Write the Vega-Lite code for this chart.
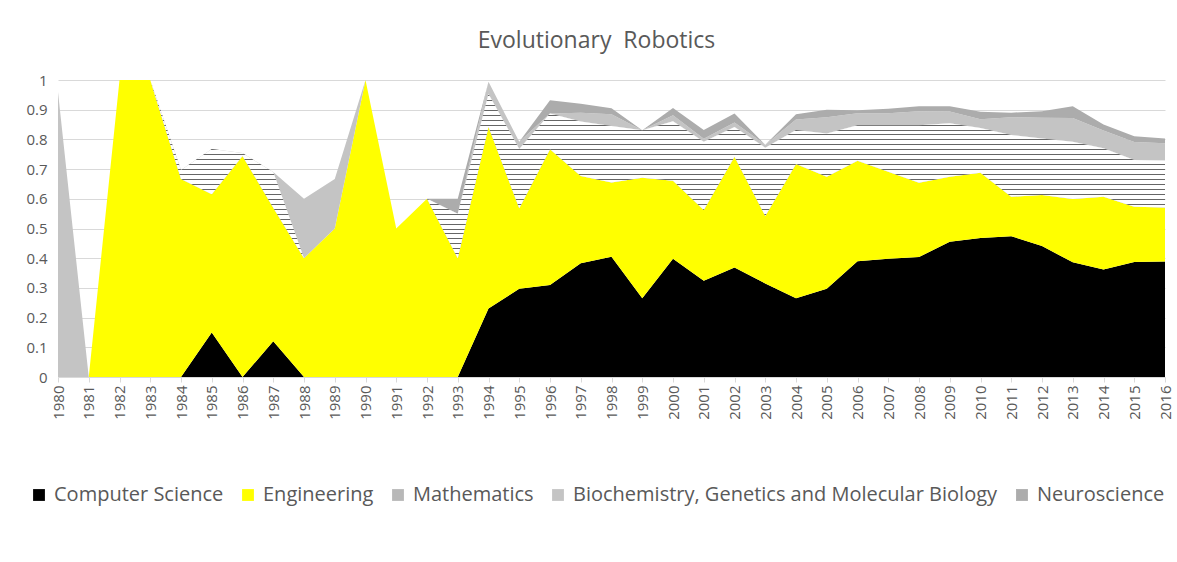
{
  "$schema": "https://vega.github.io/schema/vega-lite/v6.json",
  "width": 1107,
  "height": 297,
  "autosize": {"type": "none"},
  "padding": {"left": 58, "top": 80, "right": 12, "bottom": 185},
  "background": "white",
  "title": {"text": "Evolutionary\u00a0 Robotics", "fontSize": 23, "font": "Open Sans", "fontWeight": "normal", "color": "#595959", "offset": 20, "dx": -15},
  "data": {"values": [
    {"year": 1980, "Computer Science": 0, "Engineering": 0, "Mathematics": 0, "Biochemistry, Genetics and Molecular Biology": 0.96, "Neuroscience": 0},
    {"year": 1981, "Computer Science": 0, "Engineering": 0, "Mathematics": 0, "Biochemistry, Genetics and Molecular Biology": 0, "Neuroscience": 0},
    {"year": 1982, "Computer Science": 0, "Engineering": 1, "Mathematics": 0, "Biochemistry, Genetics and Molecular Biology": 0, "Neuroscience": 0},
    {"year": 1983, "Computer Science": 0, "Engineering": 1, "Mathematics": 0, "Biochemistry, Genetics and Molecular Biology": 0, "Neuroscience": 0},
    {"year": 1984, "Computer Science": 0, "Engineering": 0.667, "Mathematics": 0.03, "Biochemistry, Genetics and Molecular Biology": 0, "Neuroscience": 0},
    {"year": 1985, "Computer Science": 0.15, "Engineering": 0.465, "Mathematics": 0.153, "Biochemistry, Genetics and Molecular Biology": 0, "Neuroscience": 0},
    {"year": 1986, "Computer Science": 0, "Engineering": 0.744, "Mathematics": 0.01, "Biochemistry, Genetics and Molecular Biology": 0, "Neuroscience": 0},
    {"year": 1987, "Computer Science": 0.12, "Engineering": 0.45, "Mathematics": 0.12, "Biochemistry, Genetics and Molecular Biology": 0, "Neuroscience": 0},
    {"year": 1988, "Computer Science": 0, "Engineering": 0.4, "Mathematics": 0, "Biochemistry, Genetics and Molecular Biology": 0.2, "Neuroscience": 0},
    {"year": 1989, "Computer Science": 0, "Engineering": 0.5, "Mathematics": 0, "Biochemistry, Genetics and Molecular Biology": 0.167, "Neuroscience": 0},
    {"year": 1990, "Computer Science": 0, "Engineering": 1, "Mathematics": 0, "Biochemistry, Genetics and Molecular Biology": 0, "Neuroscience": 0},
    {"year": 1991, "Computer Science": 0, "Engineering": 0.5, "Mathematics": 0, "Biochemistry, Genetics and Molecular Biology": 0, "Neuroscience": 0},
    {"year": 1992, "Computer Science": 0, "Engineering": 0.6, "Mathematics": 0, "Biochemistry, Genetics and Molecular Biology": 0, "Neuroscience": 0},
    {"year": 1993, "Computer Science": 0, "Engineering": 0.4, "Mathematics": 0.15, "Biochemistry, Genetics and Molecular Biology": 0, "Neuroscience": 0.05},
    {"year": 1994, "Computer Science": 0.231, "Engineering": 0.612, "Mathematics": 0.11, "Biochemistry, Genetics and Molecular Biology": 0.041, "Neuroscience": 0},
    {"year": 1995, "Computer Science": 0.297, "Engineering": 0.271, "Mathematics": 0.2, "Biochemistry, Genetics and Molecular Biology": 0.024, "Neuroscience": 0},
    {"year": 1996, "Computer Science": 0.31, "Engineering": 0.457, "Mathematics": 0.12, "Biochemistry, Genetics and Molecular Biology": 0, "Neuroscience": 0.045},
    {"year": 1997, "Computer Science": 0.383, "Engineering": 0.294, "Mathematics": 0.183, "Biochemistry, Genetics and Molecular Biology": 0.03, "Neuroscience": 0.03},
    {"year": 1998, "Computer Science": 0.405, "Engineering": 0.25, "Mathematics": 0.19, "Biochemistry, Genetics and Molecular Biology": 0.04, "Neuroscience": 0.02},
    {"year": 1999, "Computer Science": 0.265, "Engineering": 0.406, "Mathematics": 0.16, "Biochemistry, Genetics and Molecular Biology": 0, "Neuroscience": 0},
    {"year": 2000, "Computer Science": 0.398, "Engineering": 0.263, "Mathematics": 0.2, "Biochemistry, Genetics and Molecular Biology": 0.02, "Neuroscience": 0.025},
    {"year": 2001, "Computer Science": 0.324, "Engineering": 0.238, "Mathematics": 0.23, "Biochemistry, Genetics and Molecular Biology": 0.01, "Neuroscience": 0.03},
    {"year": 2002, "Computer Science": 0.369, "Engineering": 0.373, "Mathematics": 0.1, "Biochemistry, Genetics and Molecular Biology": 0.015, "Neuroscience": 0.03},
    {"year": 2003, "Computer Science": 0.315, "Engineering": 0.227, "Mathematics": 0.23, "Biochemistry, Genetics and Molecular Biology": 0.01, "Neuroscience": 0},
    {"year": 2004, "Computer Science": 0.265, "Engineering": 0.452, "Mathematics": 0.115, "Biochemistry, Genetics and Molecular Biology": 0.035, "Neuroscience": 0.018},
    {"year": 2005, "Computer Science": 0.297, "Engineering": 0.377, "Mathematics": 0.146, "Biochemistry, Genetics and Molecular Biology": 0.055, "Neuroscience": 0.025},
    {"year": 2006, "Computer Science": 0.39, "Engineering": 0.338, "Mathematics": 0.12, "Biochemistry, Genetics and Molecular Biology": 0.04, "Neuroscience": 0.01},
    {"year": 2007, "Computer Science": 0.398, "Engineering": 0.293, "Mathematics": 0.157, "Biochemistry, Genetics and Molecular Biology": 0.04, "Neuroscience": 0.015},
    {"year": 2008, "Computer Science": 0.404, "Engineering": 0.25, "Mathematics": 0.194, "Biochemistry, Genetics and Molecular Biology": 0.047, "Neuroscience": 0.017},
    {"year": 2009, "Computer Science": 0.455, "Engineering": 0.219, "Mathematics": 0.18, "Biochemistry, Genetics and Molecular Biology": 0.04, "Neuroscience": 0.018},
    {"year": 2010, "Computer Science": 0.468, "Engineering": 0.22, "Mathematics": 0.15, "Biochemistry, Genetics and Molecular Biology": 0.03, "Neuroscience": 0.025},
    {"year": 2011, "Computer Science": 0.474, "Engineering": 0.133, "Mathematics": 0.208, "Biochemistry, Genetics and Molecular Biology": 0.06, "Neuroscience": 0.015},
    {"year": 2012, "Computer Science": 0.441, "Engineering": 0.172, "Mathematics": 0.19, "Biochemistry, Genetics and Molecular Biology": 0.07, "Neuroscience": 0.022},
    {"year": 2013, "Computer Science": 0.386, "Engineering": 0.213, "Mathematics": 0.193, "Biochemistry, Genetics and Molecular Biology": 0.08, "Neuroscience": 0.04},
    {"year": 2014, "Computer Science": 0.362, "Engineering": 0.245, "Mathematics": 0.163, "Biochemistry, Genetics and Molecular Biology": 0.06, "Neuroscience": 0.02},
    {"year": 2015, "Computer Science": 0.387, "Engineering": 0.186, "Mathematics": 0.158, "Biochemistry, Genetics and Molecular Biology": 0.06, "Neuroscience": 0.02},
    {"year": 2016, "Computer Science": 0.389, "Engineering": 0.182, "Mathematics": 0.158, "Biochemistry, Genetics and Molecular Biology": 0.058, "Neuroscience": 0.016}
  ]},
  "transform": [
    {"fold": ["Computer Science", "Engineering", "Mathematics", "Biochemistry, Genetics and Molecular Biology", "Neuroscience"], "as": ["series", "value"]},
    {"stack": "value", "groupby": ["year"], "offset": "zero", "as": ["y0", "y1"]}
  ],
  "encoding": {
    "x": {
      "field": "year", "type": "ordinal",
      "scale": {"type": "point", "padding": 0},
      "axis": {"title": null, "labelAngle": -90, "labelFontSize": 15, "labelFont": "Open Sans", "labelColor": "#595959", "domainColor": "#d9d9d9", "tickColor": "#d9d9d9", "tickSize": 5, "labelPadding": 3, "grid": false}
    },
    "y": {
      "field": "y1", "type": "quantitative",
      "scale": {"domain": [0, 1], "nice": false},
      "axis": {"title": null, "values": [0, 0.1, 0.2, 0.3, 0.4, 0.5, 0.6, 0.7, 0.8, 0.9, 1], "format": ".1~f", "labelFontSize": 15, "labelFont": "Open Sans", "labelColor": "#595959", "domain": false, "ticks": false, "labelPadding": 11, "gridColor": "#d9d9d9", "gridWidth": 1}
    },
    "y2": {"field": "y0"}
  },
  "layer": [
    {
      "mark": {"type": "area", "interpolate": "linear"},
      "encoding": {
        "color": {
          "field": "series", "type": "nominal",
          "sort": ["Computer Science", "Engineering", "Mathematics", "Biochemistry, Genetics and Molecular Biology", "Neuroscience"],
          "scale": {
            "domain": ["Computer Science", "Engineering", "Mathematics", "Biochemistry, Genetics and Molecular Biology", "Neuroscience"],
            "range": ["#000000", "#ffff00", "#b8b8b8", "#c4c4c4", "#acacac"]
          },
          "legend": {"title": null, "orient": "none", "legendX": -29, "legendY": 405, "direction": "horizontal", "symbolType": "square", "symbolSize": 140, "symbolStrokeWidth": 0, "labelFontSize": 20, "labelFont": "Open Sans", "labelColor": "#595959", "labelLimit": 700, "labelOffset": 5, "columnPadding": 14}
        }
      }
    },
    {
      "transform": [{"filter": "datum.series === 'Mathematics'"}],
      "mark": {"type": "area", "interpolate": "linear", "fill": {"gradient": "linear", "x1": 0, "y1": 0, "x2": 0, "y2": 1, "stops": [
{"offset":0,"color":"#666"},{"offset":0.0034,"color":"#666"},{"offset":0.0034,"color":"#fff"},{"offset":0.0167,"color":"#fff"},
{"offset":0.0167,"color":"#666"},{"offset":0.0201,"color":"#666"},{"offset":0.0201,"color":"#fff"},{"offset":0.0333,"color":"#fff"},
{"offset":0.0333,"color":"#666"},{"offset":0.0367,"color":"#666"},{"offset":0.0367,"color":"#fff"},{"offset":0.05,"color":"#fff"},
{"offset":0.05,"color":"#666"},{"offset":0.0534,"color":"#666"},{"offset":0.0534,"color":"#fff"},{"offset":0.0667,"color":"#fff"},
{"offset":0.0667,"color":"#666"},{"offset":0.0701,"color":"#666"},{"offset":0.0701,"color":"#fff"},{"offset":0.0833,"color":"#fff"},
{"offset":0.0833,"color":"#666"},{"offset":0.0867,"color":"#666"},{"offset":0.0867,"color":"#fff"},{"offset":0.1,"color":"#fff"},
{"offset":0.1,"color":"#666"},{"offset":0.1034,"color":"#666"},{"offset":0.1034,"color":"#fff"},{"offset":0.1167,"color":"#fff"},
{"offset":0.1167,"color":"#666"},{"offset":0.1201,"color":"#666"},{"offset":0.1201,"color":"#fff"},{"offset":0.1333,"color":"#fff"},
{"offset":0.1333,"color":"#666"},{"offset":0.1367,"color":"#666"},{"offset":0.1367,"color":"#fff"},{"offset":0.15,"color":"#fff"},
{"offset":0.15,"color":"#666"},{"offset":0.1534,"color":"#666"},{"offset":0.1534,"color":"#fff"},{"offset":0.1667,"color":"#fff"},
{"offset":0.1667,"color":"#666"},{"offset":0.1701,"color":"#666"},{"offset":0.1701,"color":"#fff"},{"offset":0.1833,"color":"#fff"},
{"offset":0.1833,"color":"#666"},{"offset":0.1867,"color":"#666"},{"offset":0.1867,"color":"#fff"},{"offset":0.2,"color":"#fff"},
{"offset":0.2,"color":"#666"},{"offset":0.2034,"color":"#666"},{"offset":0.2034,"color":"#fff"},{"offset":0.2167,"color":"#fff"},
{"offset":0.2167,"color":"#666"},{"offset":0.2201,"color":"#666"},{"offset":0.2201,"color":"#fff"},{"offset":0.2333,"color":"#fff"},
{"offset":0.2333,"color":"#666"},{"offset":0.2367,"color":"#666"},{"offset":0.2367,"color":"#fff"},{"offset":0.25,"color":"#fff"},
{"offset":0.25,"color":"#666"},{"offset":0.2534,"color":"#666"},{"offset":0.2534,"color":"#fff"},{"offset":0.2667,"color":"#fff"},
{"offset":0.2667,"color":"#666"},{"offset":0.2701,"color":"#666"},{"offset":0.2701,"color":"#fff"},{"offset":0.2833,"color":"#fff"},
{"offset":0.2833,"color":"#666"},{"offset":0.2867,"color":"#666"},{"offset":0.2867,"color":"#fff"},{"offset":0.3,"color":"#fff"},
{"offset":0.3,"color":"#666"},{"offset":0.3034,"color":"#666"},{"offset":0.3034,"color":"#fff"},{"offset":0.3167,"color":"#fff"},
{"offset":0.3167,"color":"#666"},{"offset":0.3201,"color":"#666"},{"offset":0.3201,"color":"#fff"},{"offset":0.3333,"color":"#fff"},
{"offset":0.3333,"color":"#666"},{"offset":0.3367,"color":"#666"},{"offset":0.3367,"color":"#fff"},{"offset":0.35,"color":"#fff"},
{"offset":0.35,"color":"#666"},{"offset":0.3534,"color":"#666"},{"offset":0.3534,"color":"#fff"},{"offset":0.3667,"color":"#fff"},
{"offset":0.3667,"color":"#666"},{"offset":0.3701,"color":"#666"},{"offset":0.3701,"color":"#fff"},{"offset":0.3833,"color":"#fff"},
{"offset":0.3833,"color":"#666"},{"offset":0.3867,"color":"#666"},{"offset":0.3867,"color":"#fff"},{"offset":0.4,"color":"#fff"},
{"offset":0.4,"color":"#666"},{"offset":0.4034,"color":"#666"},{"offset":0.4034,"color":"#fff"},{"offset":0.4167,"color":"#fff"},
{"offset":0.4167,"color":"#666"},{"offset":0.4201,"color":"#666"},{"offset":0.4201,"color":"#fff"},{"offset":0.4333,"color":"#fff"},
{"offset":0.4333,"color":"#666"},{"offset":0.4367,"color":"#666"},{"offset":0.4367,"color":"#fff"},{"offset":0.45,"color":"#fff"},
{"offset":0.45,"color":"#666"},{"offset":0.4534,"color":"#666"},{"offset":0.4534,"color":"#fff"},{"offset":0.4667,"color":"#fff"},
{"offset":0.4667,"color":"#666"},{"offset":0.4701,"color":"#666"},{"offset":0.4701,"color":"#fff"},{"offset":0.4833,"color":"#fff"},
{"offset":0.4833,"color":"#666"},{"offset":0.4867,"color":"#666"},{"offset":0.4867,"color":"#fff"},{"offset":0.5,"color":"#fff"},
{"offset":0.5,"color":"#666"},{"offset":0.5034,"color":"#666"},{"offset":0.5034,"color":"#fff"},{"offset":0.5167,"color":"#fff"},
{"offset":0.5167,"color":"#666"},{"offset":0.5201,"color":"#666"},{"offset":0.5201,"color":"#fff"},{"offset":0.5333,"color":"#fff"},
{"offset":0.5333,"color":"#666"},{"offset":0.5367,"color":"#666"},{"offset":0.5367,"color":"#fff"},{"offset":0.55,"color":"#fff"},
{"offset":0.55,"color":"#666"},{"offset":0.5534,"color":"#666"},{"offset":0.5534,"color":"#fff"},{"offset":0.5667,"color":"#fff"},
{"offset":0.5667,"color":"#666"},{"offset":0.5701,"color":"#666"},{"offset":0.5701,"color":"#fff"},{"offset":0.5833,"color":"#fff"},
{"offset":0.5833,"color":"#666"},{"offset":0.5867,"color":"#666"},{"offset":0.5867,"color":"#fff"},{"offset":0.6,"color":"#fff"},
{"offset":0.6,"color":"#666"},{"offset":0.6034,"color":"#666"},{"offset":0.6034,"color":"#fff"},{"offset":0.6167,"color":"#fff"},
{"offset":0.6167,"color":"#666"},{"offset":0.6201,"color":"#666"},{"offset":0.6201,"color":"#fff"},{"offset":0.6333,"color":"#fff"},
{"offset":0.6333,"color":"#666"},{"offset":0.6367,"color":"#666"},{"offset":0.6367,"color":"#fff"},{"offset":0.65,"color":"#fff"},
{"offset":0.65,"color":"#666"},{"offset":0.6534,"color":"#666"},{"offset":0.6534,"color":"#fff"},{"offset":0.6667,"color":"#fff"},
{"offset":0.6667,"color":"#666"},{"offset":0.6701,"color":"#666"},{"offset":0.6701,"color":"#fff"},{"offset":0.6833,"color":"#fff"},
{"offset":0.6833,"color":"#666"},{"offset":0.6867,"color":"#666"},{"offset":0.6867,"color":"#fff"},{"offset":0.7,"color":"#fff"},
{"offset":0.7,"color":"#666"},{"offset":0.7034,"color":"#666"},{"offset":0.7034,"color":"#fff"},{"offset":0.7167,"color":"#fff"},
{"offset":0.7167,"color":"#666"},{"offset":0.7201,"color":"#666"},{"offset":0.7201,"color":"#fff"},{"offset":0.7333,"color":"#fff"},
{"offset":0.7333,"color":"#666"},{"offset":0.7367,"color":"#666"},{"offset":0.7367,"color":"#fff"},{"offset":0.75,"color":"#fff"},
{"offset":0.75,"color":"#666"},{"offset":0.7534,"color":"#666"},{"offset":0.7534,"color":"#fff"},{"offset":0.7667,"color":"#fff"},
{"offset":0.7667,"color":"#666"},{"offset":0.7701,"color":"#666"},{"offset":0.7701,"color":"#fff"},{"offset":0.7833,"color":"#fff"},
{"offset":0.7833,"color":"#666"},{"offset":0.7867,"color":"#666"},{"offset":0.7867,"color":"#fff"},{"offset":0.8,"color":"#fff"},
{"offset":0.8,"color":"#666"},{"offset":0.8034,"color":"#666"},{"offset":0.8034,"color":"#fff"},{"offset":0.8167,"color":"#fff"},
{"offset":0.8167,"color":"#666"},{"offset":0.8201,"color":"#666"},{"offset":0.8201,"color":"#fff"},{"offset":0.8333,"color":"#fff"},
{"offset":0.8333,"color":"#666"},{"offset":0.8367,"color":"#666"},{"offset":0.8367,"color":"#fff"},{"offset":0.85,"color":"#fff"},
{"offset":0.85,"color":"#666"},{"offset":0.8534,"color":"#666"},{"offset":0.8534,"color":"#fff"},{"offset":0.8667,"color":"#fff"},
{"offset":0.8667,"color":"#666"},{"offset":0.8701,"color":"#666"},{"offset":0.8701,"color":"#fff"},{"offset":0.8833,"color":"#fff"},
{"offset":0.8833,"color":"#666"},{"offset":0.8867,"color":"#666"},{"offset":0.8867,"color":"#fff"},{"offset":0.9,"color":"#fff"},
{"offset":0.9,"color":"#666"},{"offset":0.9034,"color":"#666"},{"offset":0.9034,"color":"#fff"},{"offset":0.9167,"color":"#fff"},
{"offset":0.9167,"color":"#666"},{"offset":0.9201,"color":"#666"},{"offset":0.9201,"color":"#fff"},{"offset":0.9333,"color":"#fff"},
{"offset":0.9333,"color":"#666"},{"offset":0.9367,"color":"#666"},{"offset":0.9367,"color":"#fff"},{"offset":0.95,"color":"#fff"},
{"offset":0.95,"color":"#666"},{"offset":0.9534,"color":"#666"},{"offset":0.9534,"color":"#fff"},{"offset":0.9667,"color":"#fff"},
{"offset":0.9667,"color":"#666"},{"offset":0.9701,"color":"#666"},{"offset":0.9701,"color":"#fff"},{"offset":0.9833,"color":"#fff"},
{"offset":0.9833,"color":"#666"},{"offset":0.9867,"color":"#666"},{"offset":0.9867,"color":"#fff"},{"offset":1,"color":"#fff"}
      ]}}
    }
  ],
  "config": {"view": {"stroke": null}}
}
